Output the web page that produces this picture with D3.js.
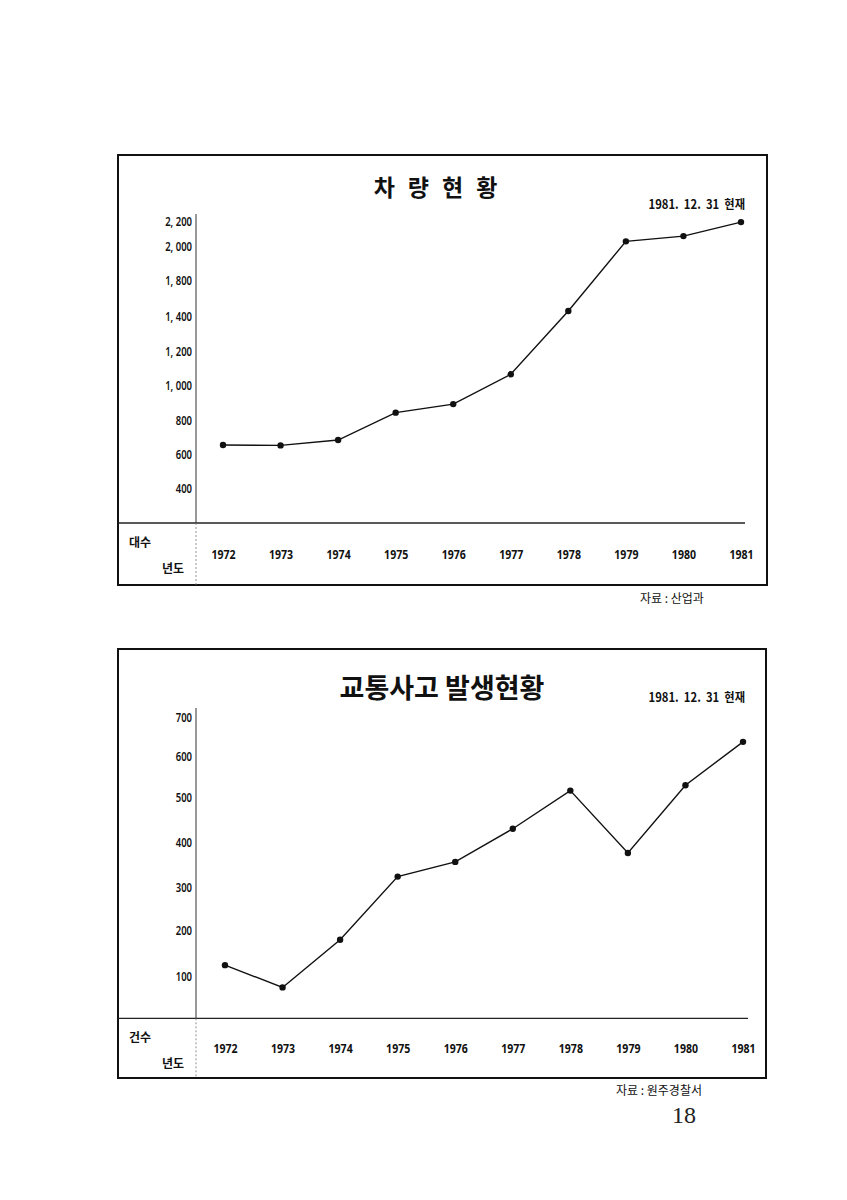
<!DOCTYPE html>
<html>
<head>
<meta charset="utf-8">
<script src="https://cdn.jsdelivr.net/npm/d3@7/dist/d3.min.js"></script>
<style>
  html, body { margin: 0; padding: 0; background: #fff; }
  svg { display: block; }
  .num { font-family: "Noto Sans", "DejaVu Sans", sans-serif; }
  .kr { font-family: "Noto Sans CJK KR", "Noto Sans", sans-serif; }
</style>
</head>
<body>
<svg id="page" width="847" height="1200"></svg>
<script>
// ---------- DATA ----------
const years = ["1972", "1973", "1974", "1975", "1976", "1977", "1978", "1979", "1980", "1981"];

// 차량현황 (vehicles, 대수)
const vehicleCounts = [655, 653, 685, 845, 893, 1063, 1457, 2043, 2085, 2197];
const vehicleTicks = [400, 600, 800, 1000, 1200, 1400, 1800, 2000, 2200];
const vehicleTickLabels = ["400", "600", "800", "1, 000", "1, 200", "1, 400", "1, 800", "2, 000", "2, 200"];

// 교통사고 발생현황 (accidents, 건수)
const accidentCounts = [124, 73, 180, 324, 357, 431, 517, 377, 530, 637];
const accidentTicks = [100, 200, 300, 400, 500, 600, 700];
const accidentTickLabels = ["100", "200", "300", "400", "500", "600", "700"];

// ---------- LAYOUT ----------
const svg = d3.select("#page");

function condense(sel, k) {
  sel.each(function () {
    const w = this.getComputedTextLength();
    d3.select(this).attr("textLength", w * k).attr("lengthAdjust", "spacingAndGlyphs");
  });
}

function drawChart(cfg) {
  const g = svg.append("g");
  const { box } = cfg;

  // frame
  g.append("rect")
    .attr("x", box.x0).attr("y", box.y0)
    .attr("width", box.x1 - box.x0).attr("height", box.y1 - box.y0)
    .attr("fill", "none").attr("stroke", "#111").attr("stroke-width", 2);

  // scales
  const x = d3.scalePoint().domain(years).range([cfg.xFirst, cfg.xLast]);
  // piecewise linear scale following the printed (uneven) tick spacing
  const y = d3.scaleLinear().domain(cfg.yDomain).range(cfg.yRange);

  // baseline / divider line
  g.append("line")
    .attr("x1", box.x0).attr("x2", cfg.baseEnd)
    .attr("y1", y(cfg.yDomain[0])).attr("y2", y(cfg.yDomain[0]))
    .attr("stroke", "#222").attr("stroke-width", 1.3);

  // vertical axis line
  g.append("line")
    .attr("x1", cfg.axisX).attr("x2", cfg.axisX)
    .attr("y1", cfg.axisTop).attr("y2", y(cfg.yDomain[0]))
    .attr("stroke", "#333").attr("stroke-width", 1);
  g.append("line")
    .attr("x1", cfg.axisX).attr("x2", cfg.axisX)
    .attr("y1", y(cfg.yDomain[0])).attr("y2", box.y1)
    .attr("stroke", "#777").attr("stroke-width", 0.8).attr("stroke-dasharray", "2,2");

  // y axis labels
  const yAxis = d3.axisLeft(y)
    .tickValues(cfg.ticks)
    .tickFormat((d, i) => cfg.tickLabels[i])
    .tickSize(0).tickPadding(4);
  const ya = g.append("g").attr("transform", `translate(${cfg.axisX},0)`).call(yAxis);
  ya.select(".domain").remove();
  ya.attr("font-family", null);
  ya.selectAll("text")
    .attr("class", "num")
    .attr("font-size", 12.5).attr("fill", "#111")
    .attr("font-weight", 600)
    .style("white-space", "pre");
  condense(ya.selectAll("text"), 0.76);

  // x axis labels
  const xAxis = d3.axisBottom(x).tickSize(0).tickPadding(cfg.xPad);
  const xa = g.append("g").attr("transform", `translate(0,${y(cfg.yDomain[0])})`).call(xAxis);
  xa.select(".domain").remove();
  xa.attr("font-family", null);
  xa.selectAll("text")
    .attr("class", "num")
    .attr("font-size", 12).attr("fill", "#111")
    .attr("font-weight", "bold");
  condense(xa.selectAll("text"), 0.88);

  // line
  const line = d3.line().x((d, i) => x(years[i])).y(d => y(d));
  g.append("path")
    .datum(cfg.values)
    .attr("d", line)
    .attr("fill", "none").attr("stroke", "#111").attr("stroke-width", 1.4);

  g.selectAll("circle.pt")
    .data(cfg.values)
    .join("circle")
    .attr("class", "pt")
    .attr("cx", (d, i) => x(years[i]))
    .attr("cy", d => y(d))
    .attr("r", 3.2)
    .attr("fill", "#111");

  // title
  g.append("text")
    .attr("class", "kr")
    .attr("x", cfg.titleX).attr("y", cfg.titleY)
    .attr("text-anchor", "middle")
    .attr("font-size", cfg.titleSize).attr("font-weight", "bold")
    .attr("letter-spacing", cfg.titleSpacing)
    .attr("fill", "#111")
    .text(cfg.title);

  // date note
  const note = g.append("text")
    .attr("class", "kr")
    .attr("x", cfg.noteX).attr("y", cfg.noteY)
    .attr("text-anchor", "end")
    .attr("font-size", 12.5).attr("font-weight", "bold")
    .attr("fill", "#111")
    .text("1981.\u00a0\u00a012.\u00a0\u00a031\u00a0\u00a0현재");
  condense(note, 0.9);

  // corner labels
  g.append("text").attr("class", "kr")
    .attr("x", 129).attr("y", cfg.unitY)
    .attr("font-size", 12).attr("fill", "#111").attr("font-weight", "bold")
    .text(cfg.unit);
  g.append("text").attr("class", "kr")
    .attr("x", 162).attr("y", cfg.unitY + 26)
    .attr("font-size", 12).attr("fill", "#111").attr("font-weight", "bold")
    .text("년도");

  // source
  g.append("text").attr("class", "kr")
    .attr("x", cfg.srcX).attr("y", cfg.srcY)
    .attr("font-size", 12).attr("fill", "#111")
    .text(cfg.source);
}

drawChart({
  box: { x0: 118, y0: 155, x1: 767, y1: 585 },
  xFirst: 223, xLast: 741,
  yDomain: [200, 400, 600, 800, 1000, 1200, 1400, 1800, 2000, 2200],
  yRange: [523, 488.3, 454.3, 420.7, 385, 351, 316, 280.7, 246.7, 221.7],
  ticks: vehicleTicks, tickLabels: vehicleTickLabels,
  values: vehicleCounts,
  baseEnd: 745, axisX: 196, axisTop: 214, xPad: 27,
  title: "차량현황", titleX: 442, titleY: 196, titleSize: 23, titleSpacing: 13,
  noteX: 745, noteY: 209,
  unit: "대수", unitY: 547,
  source: "자료 : 산업과", srcX: 640, srcY: 603
});

drawChart({
  box: { x0: 118, y0: 649, x1: 766, y1: 1078 },
  xFirst: 225, xLast: 743,
  yDomain: [0, 100, 200, 300, 400, 500, 600, 700],
  yRange: [1018.3, 976, 930.7, 887.3, 842.7, 797.7, 756, 717.7],
  ticks: accidentTicks, tickLabels: accidentTickLabels,
  values: accidentCounts,
  baseEnd: 748, axisX: 196, axisTop: 708, xPad: 26,
  title: "교통사고 발생현황", titleX: 442, titleY: 698, titleSize: 27, titleSpacing: 0,
  noteX: 745, noteY: 702,
  unit: "건수", unitY: 1042,
  source: "자료 : 원주경찰서", srcX: 616, srcY: 1095
});

// page number
svg.append("text")
  .attr("x", 684).attr("y", 1123)
  .attr("text-anchor", "middle")
  .attr("font-family", "Liberation Serif, DejaVu Serif, serif")
  .attr("font-size", 24).attr("fill", "#222")
  .text("18");
</script>
</body>
</html>
